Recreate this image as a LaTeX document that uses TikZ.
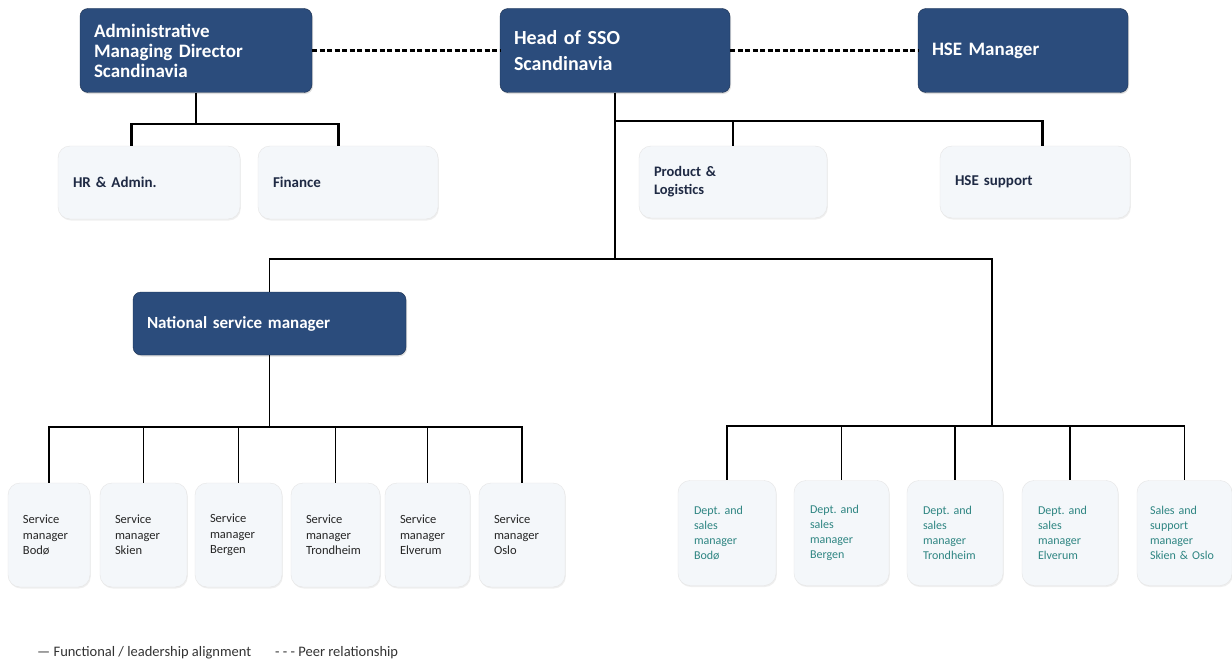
\documentclass[tikz,border=0pt]{standalone}
\usepackage{fontspec}
\setmainfont{Carlito}
\usepackage{xcolor}
\usepackage{tikz}
\usetikzlibrary{positioning}
\usetikzlibrary{shadows}
\definecolor{navy}{HTML}{2B4C7C}
\definecolor{navyline}{HTML}{1B3050}
\definecolor{paleblue}{HTML}{F4F7FA}
\definecolor{textnavy}{HTML}{1F2A44}
\definecolor{deptteal}{HTML}{2E8582}
\frenchspacing

\begin{document}
\begin{tikzpicture}[x=1pt, y=-1pt,
    headbox/.style={draw=navyline, fill=navy, rounded corners=8pt, text=white, align=left,
        inner xsep=14pt, minimum height=84pt,
        drop shadow={opacity=0.25, shadow xshift=1pt, shadow yshift=-1.5pt}},
    unitbox/.style={draw=black!10, fill=paleblue, rounded corners=12pt, text=textnavy, align=left,
        inner xsep=15pt, font=\bfseries\fontsize{15}{18}\selectfont,
        drop shadow={opacity=0.12, shadow xshift=0.8pt, shadow yshift=-1.5pt}},
    smbox/.style={unitbox, minimum height=104pt, text=black!85, font=\fontsize{12.5}{15.5}\selectfont},
    deptbox/.style={unitbox, inner xsep=16pt, minimum height=105pt, text=deptteal, font=\fontsize{12}{15}\selectfont},
    link/.style={line width=1.8pt},
    linkthick/.style={line width=2.8pt},
    peer/.style={line width=2.4pt, dash pattern=on 5pt off 2.5pt},
    legend/.style={inner sep=0pt, text=black!80, font=\fontsize{14.5}{16}\selectfont}]

\fill[white] (0,0) rectangle (1232,661);
\useasboundingbox (0,0) rectangle (1232,661);

% top row
\node[headbox, text width=204pt, font=\bfseries\fontsize{19}{20}\selectfont] (amd) at (196,50.5) {Administrative\\Managing Director\\Scandinavia};
\node[headbox, text width=202pt, font=\bfseries\fontsize{20}{26}\selectfont] (head) at (615,50.5) {Head of SSO\\Scandinavia};
\node[headbox, text width=182pt, font=\bfseries\fontsize{19}{22}\selectfont] (hsem) at (1023,50.5) {HSE Manager};

\draw[peer] (amd.east) -- (head.west);
\draw[peer] (head.east) -- (hsem.west);

% staff units
\node[unitbox, text width=152pt, minimum height=73pt] (hr) at (149,182.5) {HR \& Admin.};
\node[unitbox, text width=150pt, minimum height=73pt] (fin) at (348,182.5) {Finance};
\node[unitbox, text width=158pt, minimum height=72pt, font=\bfseries\fontsize{14.5}{18}\selectfont] (prod) at (733,182) {Product \&\\Logistics};
\node[unitbox, text width=160pt, minimum height=72pt] (hses) at (1035,182) {HSE support};

\draw[linkthick] (amd.south) -- (amd.south |- 0,124) -| ([xshift=-17.5pt]hr.north);
\draw[linkthick] (amd.south |- 0,124) -| ([xshift=-9.5pt]fin.north);
\draw[linkthick] (head.south |- 0,121) -| (prod.north);
\draw[linkthick] (head.south |- 0,121) -| ([xshift=7.5pt]hses.north);

% service line
\node[headbox, text width=245pt, minimum height=63pt, font=\bfseries\fontsize{17}{20}\selectfont] (nsm) at (269.5,323.5) {National service manager};
\coordinate (dept) at (992,426);

\draw[link] (head.south) -- (head.south |- 0,259);
\draw[link] (nsm.north) |- (dept |- 0,259) -- (dept);

\node[smbox, text width=52pt] (sm1) at (49,535) {Service\\manager\\Bodø};
\node[smbox, text width=57pt] (sm2) at (143.5,535) {Service\\manager\\Skien};
\node[smbox, text width=57pt] (sm3) at (238.5,535) {Service\\manager\\Bergen};
\node[smbox, text width=59pt] (sm4) at (335.5,535) {Service\\manager\\Trondheim};
\node[smbox, text width=55pt] (sm5) at (427.5,535) {Service\\manager\\Elverum};
\node[smbox, text width=56pt] (sm6) at (522,535) {Service\\manager\\Oslo};

\draw[link] (nsm.south) -- (nsm.south |- 0,427);
\foreach \s in {sm1,sm2,sm3,sm4,sm5,sm6}
    \draw[link] (nsm.south |- 0,427) -| (\s.north);

% sales line
\node[deptbox, text width=66pt] (dm1) at (727,533) {Dept. and\\sales\\manager\\Bodø};
\node[deptbox, text width=63pt] (dm2) at (841.5,533) {Dept. and\\sales\\manager\\Bergen};
\node[deptbox, text width=64pt] (dm3) at (955,533) {Dept. and\\sales\\manager\\Trondheim};
\node[deptbox, text width=64pt] (dm4) at (1070,533) {Dept. and\\sales\\manager\\Elverum};
\node[deptbox, text width=69pt, inner xsep=13pt] (dm5) at (1184.5,533) {Sales and\\support\\manager\\Skien \& Oslo};

\foreach \d in {dm1,dm2,dm3,dm4,dm5}
    \draw[link] (dept) -| (\d.north);

% legend
\node[legend, anchor=west] (legline) at (37,653) {— Functional / leadership alignment};
\node[legend, anchor=west] (legpeer) at (275,653) {- - - Peer relationship};
\end{tikzpicture}
\end{document}
